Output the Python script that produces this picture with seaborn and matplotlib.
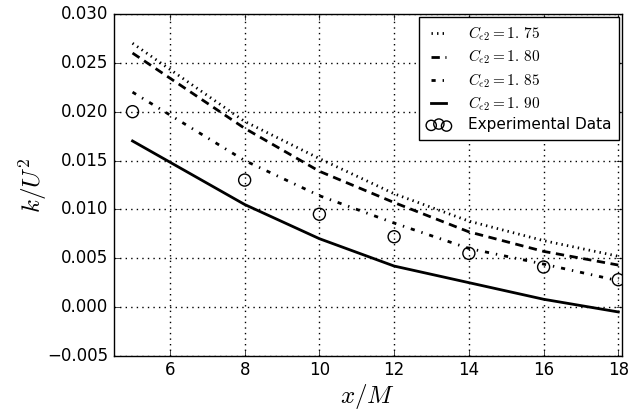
import matplotlib
matplotlib.use("Agg")
import matplotlib.pyplot as plt
import seaborn as sns
import numpy as np

x_pos = [5, 8, 10, 12, 14, 16, 18]
k_175 = [0.027, 0.019, 0.0152, 0.0116, 0.0088, 0.0068, 0.0052]
k_180 = [0.026, 0.0183, 0.0139, 0.0107, 0.0077, 0.0057, 0.0043]
k_185 = [0.022, 0.015, 0.0114, 0.0086, 0.0060, 0.0044, 0.0027]
k_190 = [0.017, 0.0105, 0.0070, 0.0042, 0.0025, 0.0008, -0.0005]
k_exp = [0.020, 0.013, 0.0095, 0.0072, 0.0055, 0.0041, 0.0028]
labels = [r"$C_{\epsilon2}=1.\,75$", r"$C_{\epsilon2}=1.\,80$",
          r"$C_{\epsilon2}=1.\,85$", r"$C_{\epsilon2}=1.\,90$", "Experimental Data"]

plt.style.use("classic")
plt.rcParams["mathtext.fontset"] = "cm"
plt.rcParams["font.family"] = ["DejaVu Sans"]

fig = plt.figure(figsize=(6.29, 4.11), dpi=100, facecolor="white")
ax = fig.add_axes([0.181, 0.134, 0.808, 0.832])
ax.set_facecolor("white")

styles = [(0, (1, 3)), (0, (6, 4)), (0, (3, 5, 1, 5)), "-"]
for y, ls, lab in zip([k_175, k_180, k_185, k_190], styles, labels[:4]):
    sns.lineplot(x=x_pos, y=y, ax=ax, color="k", linestyle=ls, linewidth=2, label=lab)
sns.scatterplot(x=x_pos, y=k_exp, ax=ax, marker="o", s=75, facecolor="none",
                edgecolor="k", linewidth=1, label=labels[4], zorder=3)

ax.set_xlim(4.5, 18.1)
ax.set_ylim(-0.005, 0.030)
ax.set_xticks([6, 8, 10, 12, 14, 16, 18])
ax.set_yticks(np.arange(-0.005, 0.0301, 0.005))
ax.set_yticklabels(["\u22120.005", "0.000", "0.005", "0.010", "0.015", "0.020", "0.025", "0.030"])
ax.tick_params(labelsize=12)
ax.grid(True, color="k", linestyle=":", linewidth=1)
ax.set_xlabel(r"$x/M$", fontsize=18, labelpad=2)
ax.set_ylabel(r"$k/U^2$", fontsize=18, labelpad=-1)
leg = ax.legend(loc="upper right", fontsize=11, scatterpoints=3, numpoints=2,
                handlelength=1.6, handletextpad=1.1, frameon=True, markerscale=0.85,
                borderaxespad=0.2, labelspacing=0.3, borderpad=0.5)
leg.get_frame().set_edgecolor("k")

fig.savefig("out.png", dpi=100, facecolor="white")
